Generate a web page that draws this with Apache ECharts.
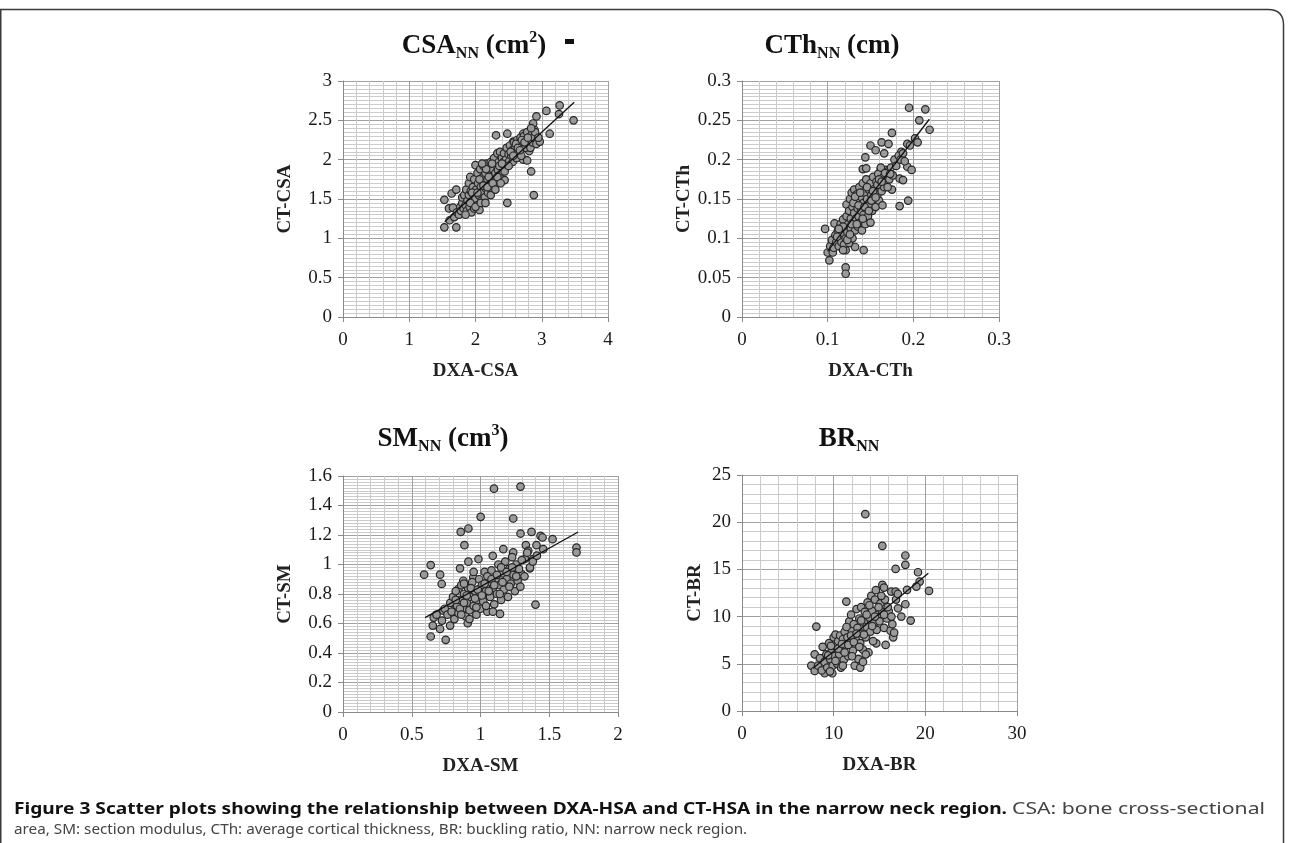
<!DOCTYPE html>
<html>
<head>
<meta charset="utf-8">
<script src="https://cdn.jsdelivr.net/npm/echarts@6/dist/echarts.min.js"></script>
<style>
  html, body { margin: 0; padding: 0; background: #fff; }
  #chart { width: 1290px; height: 843px; }
</style>
</head>
<body>
<div id="chart"></div>
<script>
// 数据：点 [DXA, CT]
var csaPoints = [
  [3.27,2.69],[3.07,2.62],[3.48,2.50],[3.26,2.58],[2.92,2.55],[3.12,2.33],[2.89,2.38],[2.87,2.46],[2.94,2.25],
  [2.31,2.31],[2.48,2.33],[2.84,1.85],[2.88,1.55],[2.48,1.45],[1.53,1.49],[1.64,1.57],[1.71,1.62],[1.53,1.14],
  [1.71,1.14],[1.61,1.23],[1.60,1.38],[1.66,1.39],[2.72,2.00],[2.70,2.14],[2.62,2.12],[2.57,2.23],[2.72,2.33],
  [2.81,2.11],[2.78,1.99],[2.44,1.74],[2.00,1.93],
  [1.68,1.27],[1.72,1.33],[1.75,1.30],[1.77,1.40],[1.78,1.35],[1.80,1.45],[1.80,1.52],[1.82,1.38],[1.83,1.55],
  [1.85,1.42],[1.86,1.62],[1.87,1.35],[1.88,1.48],[1.90,1.55],[1.90,1.70],[1.91,1.40],[1.92,1.78],[1.93,1.60],
  [1.94,1.33],[1.95,1.47],[1.96,1.65],[1.97,1.55],[1.98,1.38],[1.98,1.75],[2.00,1.50],[2.01,1.62],[2.02,1.42],
  [2.03,1.83],[2.04,1.70],[2.05,1.55],[2.06,1.36],[2.07,1.88],[2.08,1.65],[2.09,1.48],[2.10,1.77],[2.11,1.58],
  [2.12,1.92],[2.13,1.70],[2.14,1.52],[2.15,1.83],[2.16,1.63],[2.17,1.95],[2.18,1.75],[2.19,1.58],[2.20,1.87],
  [2.21,1.68],[2.22,1.80],[2.23,1.97],[2.24,1.62],[2.25,1.73],[2.26,1.88],[2.27,1.78],[2.28,2.02],[2.29,1.68],
  [2.30,1.83],[2.31,1.93],[2.32,1.75],[2.33,2.08],[2.34,1.87],[2.35,1.97],[2.36,1.80],[2.37,2.10],[2.38,1.92],
  [2.40,2.02],[2.41,1.85],[2.42,1.97],[2.43,2.08],[2.45,1.90],[2.46,2.00],[2.47,2.15],[2.48,1.95],[2.50,2.07],
  [2.51,1.98],[2.52,2.18],[2.54,2.05],[2.55,2.12],[2.56,1.97],[2.58,2.22],[2.59,2.08],[2.60,2.15],[2.62,2.02],
  [2.63,2.25],[2.65,2.10],[2.66,2.18],[2.68,2.28],[2.69,2.05],[2.71,2.22],[2.73,2.30],[2.75,2.15],[2.76,2.25],
  [2.78,2.35],[2.80,2.20],[2.82,2.28],[2.83,2.15],[2.85,2.32],[2.86,2.22],[2.88,2.28],[2.90,2.35],[2.92,2.20],
  [2.97,2.23],[2.95,2.28],
  [1.85,1.30],[1.92,1.45],[1.95,1.58],[2.00,1.40],[2.03,1.58],[2.06,1.75],[2.08,1.45],[2.12,1.67],[2.15,1.45],
  [2.18,1.65],[2.20,1.78],[2.23,1.55],[2.26,1.70],[2.30,1.62],[2.33,1.78],[2.36,1.92],[2.38,1.70],[2.40,1.95],
  [2.44,1.85],[2.50,1.92],[2.53,2.10],[2.57,2.05],[2.61,2.20],[2.64,2.15],[2.67,2.12],[2.70,2.25],[2.74,2.22],
  [2.79,2.28],[2.84,2.40],[2.16,1.88],[2.25,1.95],[2.10,1.95]
];
var csaTrend = [[1.535,1.21],[3.49,2.73]];

var cthPoints = [
  [0.195,0.266],[0.214,0.264],[0.207,0.250],[0.219,0.238],[0.202,0.227],[0.205,0.222],[0.193,0.220],[0.175,0.234],
  [0.163,0.222],[0.171,0.220],[0.150,0.218],[0.156,0.212],[0.166,0.208],[0.144,0.203],[0.186,0.210],[0.187,0.200],
  [0.193,0.191],[0.198,0.187],[0.184,0.176],[0.188,0.174],[0.175,0.162],[0.184,0.141],[0.194,0.148],[0.141,0.188],
  [0.145,0.189],[0.162,0.188],[0.168,0.187],[0.097,0.112],[0.108,0.119],[0.100,0.082],[0.102,0.072],[0.106,0.082],
  [0.121,0.063],[0.121,0.055],[0.132,0.089],[0.142,0.085],[0.121,0.085],
  [0.103,0.090],[0.105,0.098],[0.107,0.088],[0.109,0.104],[0.110,0.095],[0.112,0.110],[0.113,0.090],[0.114,0.100],
  [0.115,0.118],[0.116,0.095],[0.117,0.107],[0.118,0.124],[0.119,0.092],[0.120,0.113],[0.121,0.100],[0.122,0.128],
  [0.122,0.143],[0.123,0.108],[0.124,0.118],[0.125,0.094],[0.125,0.135],[0.126,0.150],[0.127,0.112],[0.127,0.125],
  [0.128,0.158],[0.129,0.100],[0.129,0.140],[0.130,0.120],[0.131,0.162],[0.131,0.132],[0.132,0.110],[0.133,0.148],
  [0.133,0.125],[0.134,0.156],[0.135,0.138],[0.135,0.115],[0.136,0.128],[0.137,0.165],[0.137,0.145],[0.138,0.120],
  [0.139,0.135],[0.140,0.152],[0.140,0.110],[0.141,0.170],[0.142,0.130],[0.142,0.145],[0.143,0.158],[0.144,0.118],
  [0.145,0.138],[0.145,0.175],[0.146,0.150],[0.147,0.128],[0.148,0.162],[0.149,0.142],[0.150,0.170],[0.150,0.120],
  [0.151,0.155],[0.152,0.135],[0.153,0.178],[0.154,0.148],[0.155,0.163],[0.156,0.140],[0.157,0.172],[0.158,0.155],
  [0.159,0.182],[0.160,0.148],[0.161,0.168],[0.162,0.190],[0.163,0.160],[0.164,0.142],[0.165,0.178],[0.166,0.165],
  [0.168,0.172],[0.170,0.185],[0.172,0.175],[0.174,0.190],[0.176,0.180],[0.178,0.200],[0.180,0.192],[0.183,0.205],
  [0.185,0.200],[0.188,0.208],[0.190,0.198],[0.196,0.218],
  [0.111,0.102],[0.118,0.115],[0.123,0.098],[0.126,0.105],[0.128,0.118],[0.130,0.145],[0.132,0.153],[0.134,0.118],
  [0.136,0.142],[0.138,0.158],[0.141,0.125],[0.143,0.140],[0.146,0.165],[0.148,0.135],[0.151,0.148],[0.153,0.160],
  [0.156,0.152],[0.158,0.168],[0.160,0.175],[0.163,0.172],[0.167,0.183],[0.170,0.165],[0.173,0.182],[0.118,0.085],
  [0.113,0.112]
];
var cthTrend = [[0.0998,0.0833],[0.2187,0.2514]];

var smPoints = [
  [1.098,1.514],[1.291,1.528],[1.001,1.323],[1.238,1.312],[0.856,1.221],[0.912,1.244],[1.291,1.210],[0.883,1.131],
  [1.371,1.221],[1.437,1.194],[1.451,1.183],[1.524,1.172],[1.330,1.131],[1.407,1.131],[1.347,1.093],[1.456,1.104],
  [1.698,1.115],[1.698,1.082],[0.590,0.931],[0.638,0.996],[0.706,0.931],[0.718,0.868],[0.912,1.019],[0.985,1.037],
  [1.089,1.059],[1.400,0.728],[1.142,0.665],[0.638,0.512],[0.747,0.489],[0.653,0.586],[0.706,0.563],[0.779,0.586],
  [0.907,0.602],[0.730,0.687],[0.820,0.710],[0.839,0.834],[0.851,0.974],[0.875,0.890],[0.948,0.913],[1.166,1.104],
  [1.238,1.082],[1.323,1.037],[1.383,1.037],[1.359,0.974],[1.299,0.935],
  [0.66,0.64],[0.68,0.66],[0.72,0.62],[0.74,0.70],[0.76,0.66],[0.78,0.74],[0.79,0.68],[0.80,0.78],[0.81,0.63],
  [0.82,0.82],[0.83,0.72],[0.84,0.67],[0.85,0.76],[0.86,0.86],[0.87,0.70],[0.88,0.80],[0.89,0.65],[0.90,0.74],
  [0.91,0.84],[0.92,0.69],[0.93,0.78],[0.94,0.88],[0.95,0.72],[0.96,0.82],[0.97,0.66],[0.98,0.76],[0.99,0.90],
  [1.00,0.80],[1.00,0.70],[1.01,0.86],[1.02,0.75],[1.03,0.95],[1.04,0.82],[1.05,0.68],[1.06,0.88],[1.07,0.78],
  [1.08,0.96],[1.09,0.84],[1.10,0.73],[1.11,0.90],[1.12,0.80],[1.13,1.00],[1.14,0.86],[1.15,0.76],[1.16,0.94],
  [1.17,0.83],[1.18,1.02],[1.19,0.90],[1.20,0.78],[1.21,0.97],[1.22,0.87],[1.23,1.05],[1.24,0.93],[1.25,0.82],
  [1.26,1.00],[1.27,0.89],[1.28,0.97],[1.30,1.03],[1.32,0.92],[1.34,1.08],[1.36,0.98],[1.38,1.02],[1.41,1.06],
  [1.05,0.92],[0.95,0.95],[1.15,0.98],[0.88,0.87],
  [0.82,0.76],[0.85,0.70],[0.88,0.74],[0.90,0.79],[0.93,0.84],[0.96,0.77],[0.98,0.83],[1.01,0.79],[1.03,0.87],
  [1.06,0.82],[1.08,0.90],[1.10,0.86],[1.12,0.93],[1.14,0.80],[1.16,0.88],[1.19,0.95],[1.21,0.85],[1.23,0.98],
  [1.26,0.92],[1.29,0.85],[0.92,0.63],[0.97,0.71],[1.04,0.72],[1.09,0.68],[0.86,0.66]
];
var smTrend = [[0.597,0.64],[1.71,1.22]];

var brPoints = [
  [13.45,20.85],[15.31,17.49],[17.82,16.47],[17.82,15.48],[16.76,15.05],[19.2,14.7],[19.38,13.71],[19.02,13.18],
  [20.4,12.72],[18.0,12.83],[17.82,11.31],[17.02,10.88],[17.38,10.0],[18.4,9.58],[8.11,8.94],[7.93,6.0],[7.56,4.81],
  [7.93,4.24],[9.02,4.0],[9.85,4.0],[14.65,7.17],[15.67,7.0],[11.38,11.59],[15.31,13.36],[15.49,13.07],[16.29,12.65],
  [16.76,12.65],
  [8.3,4.8],[8.5,5.6],[8.7,4.3],[8.8,6.8],[9.0,5.2],[9.2,6.0],[9.3,4.6],[9.5,7.2],[9.6,5.5],[9.8,6.5],[9.9,4.8],
  [10.0,7.8],[10.1,5.8],[10.2,8.1],[10.3,6.8],[10.4,5.0],[10.5,7.4],[10.6,6.0],[10.7,8.0],[10.8,4.6],[10.9,6.5],
  [11.0,7.6],[11.1,5.4],[11.2,8.4],[11.3,6.9],[11.5,7.8],[11.6,5.8],[11.7,9.5],[11.8,7.2],[11.9,10.2],[12.0,8.5],
  [12.1,6.4],[12.2,9.2],[12.3,4.8],[12.4,7.6],[12.5,10.8],[12.6,8.8],[12.7,5.5],[12.8,9.8],[12.9,7.2],[13.0,11.0],
  [13.1,8.2],[13.2,6.5],[13.3,9.4],[13.4,10.5],[13.5,7.8],[13.6,8.9],[13.7,11.5],[13.8,6.2],[13.9,9.9],[14.0,8.4],
  [14.1,12.2],[14.2,10.6],[14.3,7.4],[14.4,9.3],[14.5,11.8],[14.6,12.8],[14.7,8.6],[14.8,10.2],[15.0,9.5],[15.1,11.4],
  [15.3,10.5],[15.5,8.8],[15.6,11.8],[15.8,9.8],[16.0,10.6],[16.2,8.5],[16.4,9.2],[16.5,7.8],[16.6,8.3],[16.8,11.8],
  [17.0,12.4],[12.9,4.6],[13.2,5.2],[11.0,4.8],[9.6,4.2],
  [9.4,5.9],[9.7,6.9],[10.2,5.3],[10.5,6.6],[10.9,7.1],[11.2,6.2],[11.4,8.9],[11.6,7.0],[11.9,8.0],[12.2,7.3],
  [12.5,8.2],[12.8,6.8],[13.0,9.6],[13.3,8.1],[13.6,10.2],[13.9,11.2],[14.2,9.0],[14.5,10.0],[14.9,11.0],[15.2,12.2],
  [15.5,10.2],[15.9,11.0],[16.3,10.0],[12.0,5.8],[13.5,6.0]
];
var brTrend = [[7.75,4.52],[20.33,14.59]];

// 坐标轴名称与说明文字
var xNames = ['DXA-CSA', 'DXA-CTh', 'DXA-SM', 'DXA-BR'];
var yNames = ['CT-CSA', 'CT-CTh', 'CT-SM', 'CT-BR'];
var captionBold = 'Figure 3 Scatter plots showing the relationship between DXA-HSA and CT-HSA in the narrow neck region.';
var captionLine1 = 'CSA: bone cross-sectional';
var captionLine2 = 'area, SM: section modulus, CTh: average cortical thickness, BR: buckling ratio, NN: narrow neck region.';

var SERIF = '"Liberation Serif", "Times New Roman", serif';
var SANS = '"Noto Sans", "Open Sans", sans-serif';

var myChart = echarts.init(document.getElementById('chart'));

function makeAxis(i, min, max, step, minor, name, gap, margin) {
  return {
    gridIndex: i, type: 'value', min: min, max: max, interval: step,
    name: name, nameLocation: 'middle', nameGap: gap,
    nameTextStyle: { fontFamily: SERIF, fontWeight: 'bold', fontSize: 19, color: '#222' },
    axisLine: { show: true, onZero: false, lineStyle: { color: '#8a8a8a', width: 1 } },
    axisTick: { show: true, length: 5, lineStyle: { color: '#8a8a8a' } },
    minorTick: { show: false, splitNumber: minor },
    splitLine: { show: true, lineStyle: { color: '#a0a0a0', width: 1 } },
    minorSplitLine: { show: true, lineStyle: { color: '#cbcbcb', width: 1 } },
    axisLabel: { fontFamily: SERIF, fontSize: 19, color: '#1a1a1a', margin: margin,
                 showMinLabel: true, showMaxLabel: true }
  };
}

function scatterSeries(i, pts) {
  return { type: 'scatter', xAxisIndex: i, yAxisIndex: i, data: pts, symbolSize: 7.5, silent: true,
           itemStyle: { color: '#9a9a9a', borderColor: '#262626', borderWidth: 1.2, opacity: 1 } };
}
function trendSeries(i, pts) {
  return { type: 'line', xAxisIndex: i, yAxisIndex: i, data: pts, symbol: 'none', silent: true, z: 5,
           lineStyle: { color: '#111', width: 1.3 } };
}

// 说明文字：字号按第二行宽度确定，第一行按原图拉伸到整行
var ctx = document.createElement('canvas').getContext('2d');
function measure(txt, bold, size) {
  ctx.font = (bold ? 'bold ' : '') + size + 'px "Noto Sans"';
  return ctx.measureText(txt).width;
}
function captionText(txt, x, y, size, bold, targetW) {
  var sx = targetW ? targetW / measure(txt, bold, size) : 1;
  return { type: 'text', x: x, y: y, scaleX: sx, silent: true,
    style: { text: txt, fontFamily: SANS, fontSize: size, fontWeight: bold ? 'bold' : 'normal',
             fill: bold ? '#111' : '#444', verticalAlign: 'middle' } };
}
function captionEls() {
  var left = 14;
  var size = 14 * (748 - left) / measure(captionLine2, false, 14);
  var size1 = size * 1.08;
  return [
    captionText(captionBold, left, 809, size1, true, 1007 - left),
    captionText(captionLine1, 1012, 809, size1, false, 1265 - 1012),
    captionText(captionLine2, left, 830, size, false, 0)
  ];
}

var titleRich = {
  m: { fontFamily: SERIF, fontWeight: 'bold', fontSize: 27, lineHeight: 32, verticalAlign: 'middle', fill: '#111' },
  s: { fontFamily: SERIF, fontWeight: 'bold', fontSize: 16, lineHeight: 16, verticalAlign: 'bottom', fill: '#111' },
  p: { fontFamily: SERIF, fontWeight: 'bold', fontSize: 16, lineHeight: 22, verticalAlign: 'top', fill: '#111' }
};
function titleText(txt, x, y) {
  return { type: 'text', x: x, y: y, silent: true,
           style: { text: txt, rich: titleRich, align: 'center', verticalAlign: 'middle' } };
}

var frameStyle = { stroke: '#3a3a3a', lineWidth: 1.5, fill: null };

var option = {
  backgroundColor: '#fff',
  animation: false,
  grid: [
    { left: 343, top: 81, width: 265, height: 236, outerBoundsMode: 'none' },
    { left: 742, top: 81, width: 257, height: 236, outerBoundsMode: 'none' },
    { left: 343, top: 476, width: 275, height: 236, outerBoundsMode: 'none' },
    { left: 742, top: 475, width: 275, height: 236, outerBoundsMode: 'none' }
  ],
  xAxis: [
    makeAxis(0, 0, 4, 1, 5, xNames[0], 45, 14),
    makeAxis(1, 0, 0.3, 0.1, 5, xNames[1], 45, 14),
    makeAxis(2, 0, 2, 0.5, 5, xNames[2], 45, 14),
    makeAxis(3, 0, 30, 10, 5, xNames[3], 45, 14)
  ],
  yAxis: [
    makeAxis(0, 0, 3, 0.5, 10, yNames[0], 48, 11),
    makeAxis(1, 0, 0.3, 0.05, 10, yNames[1], 46, 11),
    makeAxis(2, 0, 1.6, 0.2, 10, yNames[2], 48, 11),
    makeAxis(3, 0, 25, 5, 5, yNames[3], 37, 11)
  ],
  series: [
    scatterSeries(0, csaPoints), trendSeries(0, csaTrend),
    scatterSeries(1, cthPoints), trendSeries(1, cthTrend),
    scatterSeries(2, smPoints), trendSeries(2, smTrend),
    scatterSeries(3, brPoints), trendSeries(3, brTrend)
  ],
  graphic: [
    { type: 'line', silent: true, shape: { x1: 0, y1: 9.5, x2: 1268, y2: 9.5 }, style: frameStyle },
    { type: 'bezierCurve', silent: true,
      shape: { x1: 1268, y1: 9.5, cpx1: 1283.5, cpy1: 9.5, x2: 1283.5, y2: 25 }, style: frameStyle },
    { type: 'line', silent: true, shape: { x1: 1283.5, y1: 25, x2: 1283.5, y2: 843 }, style: frameStyle },
    { type: 'line', silent: true, shape: { x1: 0.75, y1: 9, x2: 0.75, y2: 843 }, style: frameStyle },
    titleText('{m|CSA}{s|NN}{m| (cm}{p|2}{m|)}', 474, 46),
    { type: 'rect', silent: true, shape: { x: 565, y: 39, width: 9, height: 5 }, style: { fill: '#111' } },
    titleText('{m|CTh}{s|NN}{m| (cm)}', 832, 46),
    titleText('{m|SM}{s|NN}{m| (cm}{p|3}{m|)}', 443, 439),
    titleText('{m|BR}{s|NN}', 849, 439)
  ].concat(captionEls())
};

myChart.setOption(option);
</script>
</body>
</html>
